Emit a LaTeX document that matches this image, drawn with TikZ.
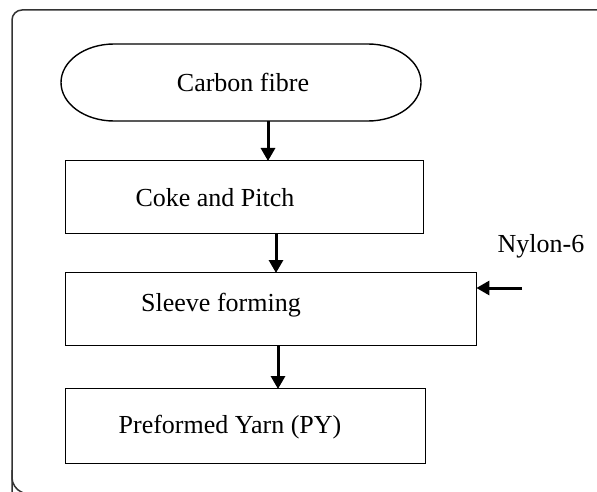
\documentclass[tikz,border=0pt]{standalone}
\usepackage{fontspec}
\setmainfont{Liberation Serif}
\usetikzlibrary{arrows.meta}
\begin{document}
\begin{tikzpicture}[x=1pt,y=-1pt,
  box/.style={draw, line width=1.4pt, minimum height=73pt, anchor=north west, inner sep=0pt},
  lbl/.style={font=\fontsize{26}{29}\selectfont},
  flow/.style={line width=3pt, -{Triangle[length=13pt,width=14pt]}, shorten >=-1pt}]
\useasboundingbox (0,0) rectangle (597,492);
\clip (0,0) rectangle (597,492);
\draw[line width=1.5pt, draw=black!80, rounded corners=10pt] (12,520) -- (12,10) -- (640,10);
\draw[line width=1.5pt, draw=black!80, rounded corners=10pt] (12,470) -- (12,488) -- (40,500);
% nodes
\node[minimum width=358pt, minimum height=77pt, inner sep=0pt] (cf) at (241,82.5) {};
\draw[line width=1.4pt] (368,44) arc[start angle=-90, end angle=90, x radius=53, y radius=38.5]
  -- (114,121) arc[start angle=90, end angle=270, x radius=53, y radius=38.5] -- cycle;
\node[lbl] (cft) at (243,82) {Carbon fibre};
\node[box, minimum width=358pt] (cp) at (65,160) {};
\node[lbl] (cpt) at (215,198) {Coke and Pitch};
\node[box, minimum width=411pt] (sf) at (65,272) {};
\node[lbl] (sft) at (221,305) {Sleeve forming};
\node[box, minimum width=360pt, minimum height=75pt] (py) at (65,388) {};
\node[lbl] (pyt) at (230,427) {Preformed Yarn (PY)};
\node[lbl] (ny) at (541,246) {Nylon-6};
\coordinate (nyend) at (522,288);
% connectors
\draw[flow] (cf.south -| 268,0) -- (cp.north -| 268,0);
\draw[flow] (cp.south -| 276,0) -- (sf.north -| 276,0);
\draw[flow] (sf.south -| 278,0) -- (py.north -| 278,0);
\draw[flow] (nyend) -- (sf.east |- nyend);
\end{tikzpicture}
\end{document}
